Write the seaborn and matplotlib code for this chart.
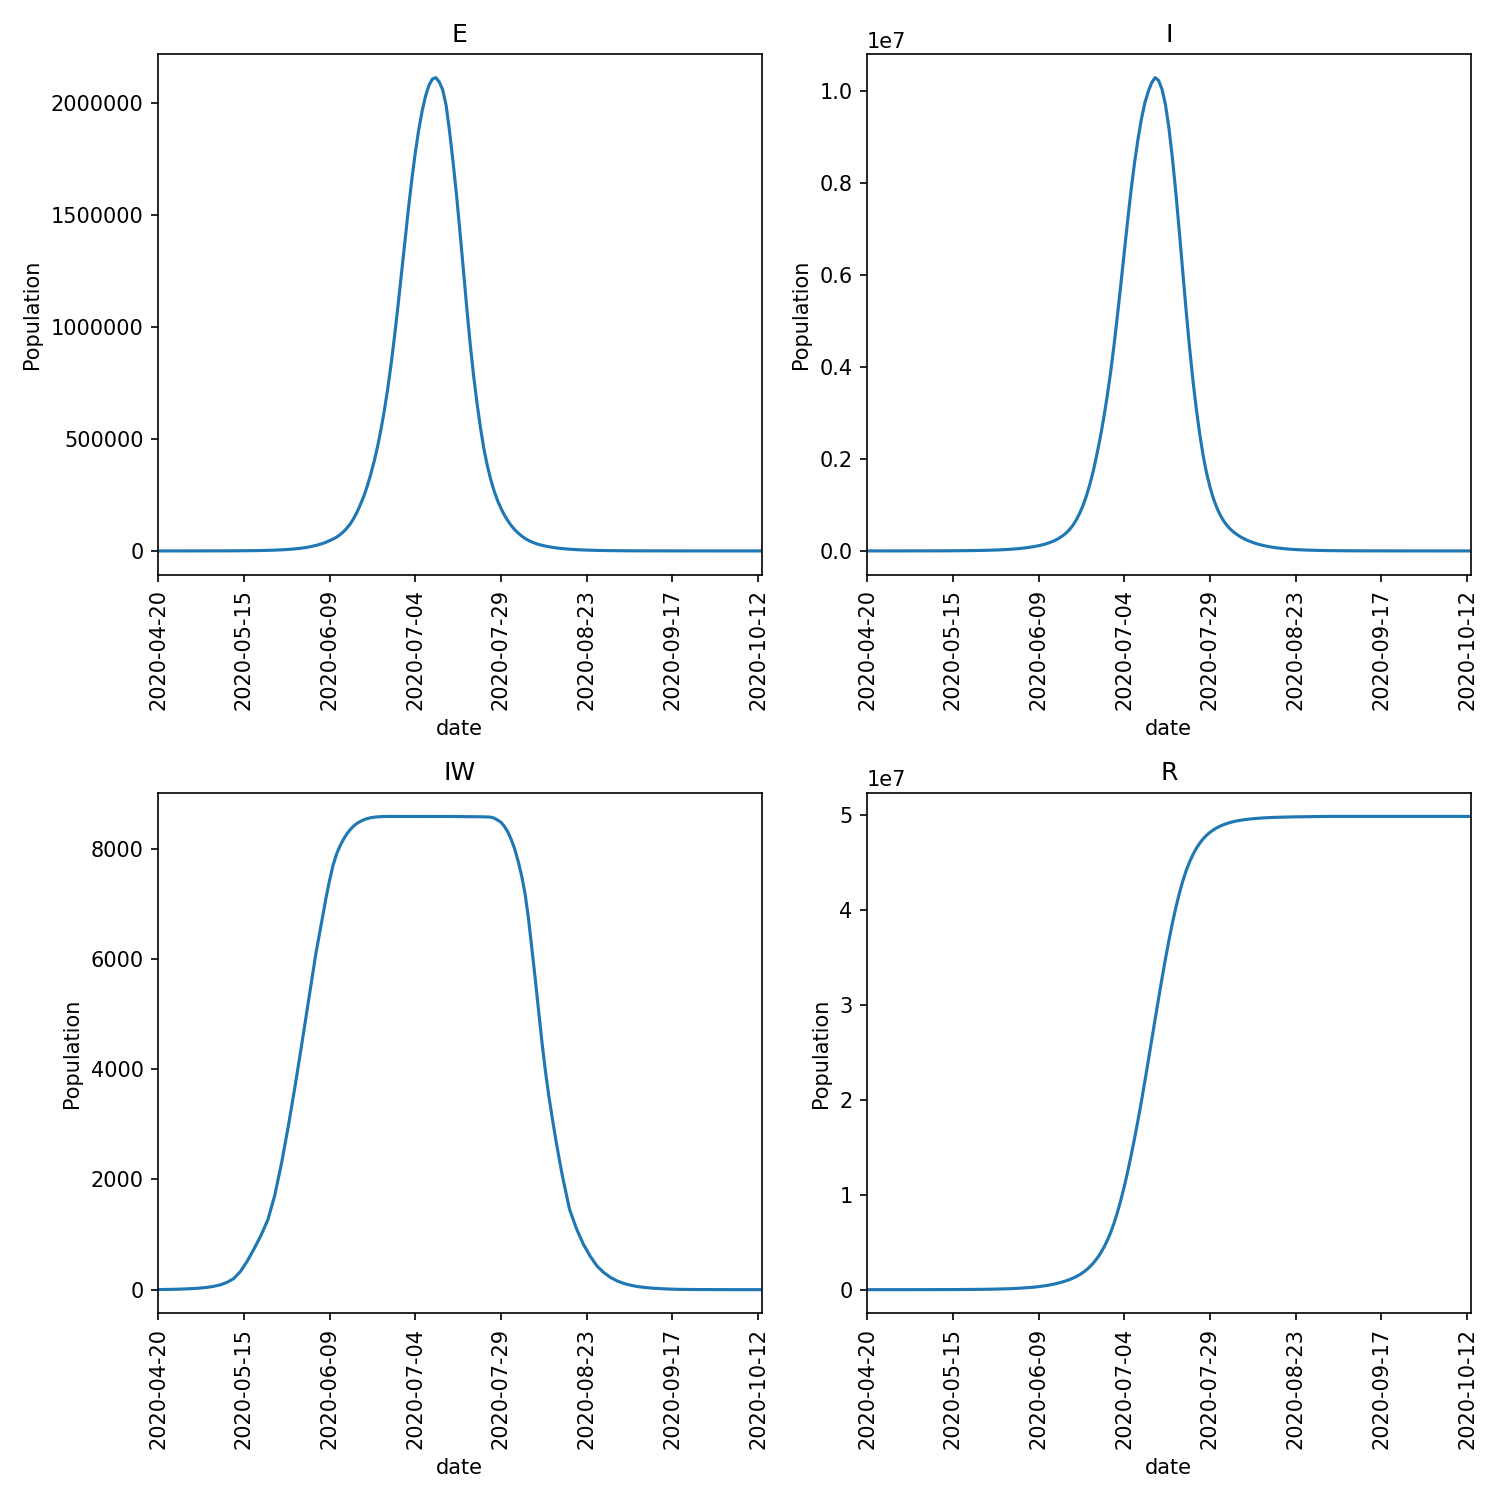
import pandas as pd
import matplotlib.pyplot as plt
import seaborn as sns

# sampled every 2nd day on the tails, daily around the peak (2020-06-08 .. 2020-08-18)
dates = (pd.date_range('2020-04-20', '2020-06-07', freq='2D')
         .append(pd.date_range('2020-06-08', '2020-08-18', freq='D'))
         .append(pd.date_range('2020-08-20', '2020-10-13', freq='2D')))
tick_labels = ['2020-04-20', '2020-05-15', '2020-06-09', '2020-07-04',
               '2020-07-29', '2020-08-23', '2020-09-17', '2020-10-12']
compartments = ['E', 'I', 'IW', 'R']

E = [15, 21, 29, 40, 56, 77, 106, 145, 200, 276,
     380, 523, 720, 990, 1365, 1880, 2590, 3560, 4900, 6750,
     9300, 12800, 17600, 24300, 33400,
     # daily
     39000, 46000, 53000, 61000, 72000, 85000, 101000, 120000, 144000, 173000,
     207000, 245000, 290000, 342000, 400000, 466000, 543000, 630000, 728000, 840000,
     965000, 1100000, 1242000, 1385000, 1528000, 1660000, 1778000, 1880000, 1965000, 2032000,
     2080000, 2108000, 2114000, 2095000, 2060000, 1990000, 1875000, 1740000, 1595000, 1432000,
     1262000, 1090000, 928000, 785000, 662000, 552000, 458000, 382000, 320000, 268000,
     225000, 190000, 160000, 135000, 113000, 95000, 80000, 67000, 56000, 47000,
     40000, 34000, 29000, 25000, 21500, 18500, 16000, 13800, 11900, 10300,
     8900, 7700,
     # every 2nd day
     5800, 4300, 3200, 2400, 1800, 1350, 1000, 750, 560, 420,
     310, 230, 170, 130, 100, 75, 56, 42, 31, 23,
     17, 13, 10, 8, 6, 4, 3, 2]

I = [100, 140, 180, 240, 320, 430, 570, 750, 1000, 1300,
     1700, 2200, 2900, 3900, 5100, 6800, 9000, 12000, 16000, 21000,
     28000, 37000, 49000, 65000, 86000,
     99000, 114000, 131000, 151000, 175000, 203000, 237000, 278000, 328000, 388000,
     463000, 556000, 675000, 820000, 995000, 1210000, 1460000, 1750000, 2100000, 2470000,
     2890000, 3360000, 3880000, 4470000, 5120000, 5800000, 6500000, 7200000, 7860000, 8450000,
     8960000, 9400000, 9750000, 10000000, 10190000, 10300000, 10240000, 10050000, 9720000, 9220000,
     8580000, 7830000, 7000000, 6130000, 5270000, 4460000, 3730000, 3100000, 2550000, 2080000,
     1700000, 1390000, 1140000, 940000, 780000, 650000, 550000, 470000, 405000, 350000,
     303000, 263000, 228000, 198000, 171000, 148000, 128000, 111000, 96000, 83000,
     72000, 62000,
     46000, 34000, 26000, 19000, 14000, 10700, 8000, 6000, 4500, 3400,
     2500, 1900, 1400, 1050, 800, 600, 450, 330, 250, 190,
     140, 100, 78, 58, 44, 33, 25, 19]

IW = [2, 4, 6, 9, 14, 20, 28, 40, 58, 86,
      130, 200, 330, 520, 745, 985, 1270, 1710, 2300, 2980,
      3720, 4500, 5300, 6100, 6780,
      7125, 7430, 7700, 7900, 8050, 8170, 8270, 8350, 8415, 8465,
      8500, 8530, 8552, 8567, 8577, 8583, 8587, 8589, 8590, 8591,
      8590, 8591, 8590, 8589, 8590, 8591, 8590, 8590, 8589, 8590,
      8591, 8590, 8589, 8590, 8590, 8589, 8590, 8589, 8588, 8588,
      8587, 8587, 8586, 8586, 8585, 8584, 8583, 8581, 8578, 8560,
      8525, 8485, 8410, 8310, 8170, 8000, 7780, 7520, 7200, 6750,
      6200, 5640, 5050, 4470, 3950, 3500, 3100, 2720, 2370, 2040,
      1750, 1460,
      1110, 830, 610, 430, 310, 220, 155, 110, 78, 55,
      40, 28, 20, 14, 9, 6, 4, 3, 2, 2,
      1, 1, 1, 0, 0, 0, 0, 0]

R = [400, 500, 650, 850, 1100, 1500, 2000, 2600, 3400, 4400,
     5800, 7600, 10000, 13000, 17000, 22000, 29000, 38000, 50000, 65000,
     85000, 110000, 145000, 190000, 245000,
     280000, 320000, 370000, 420000, 480000, 550000, 630000, 720000, 820000, 930000,
     1060000, 1210000, 1380000, 1580000, 1820000, 2100000, 2430000, 2820000, 3270000, 3800000,
     4420000, 5150000, 6000000, 7000000, 8150000, 9450000, 10880000, 12450000, 14150000, 15950000,
     17850000, 19850000, 21950000, 24120000, 26320000, 28520000, 30680000, 32800000, 34850000, 36780000,
     38580000, 40220000, 41700000, 43000000, 44120000, 45050000, 45850000, 46520000, 47070000, 47530000,
     47910000, 48220000, 48480000, 48700000, 48880000, 49030000, 49160000, 49270000, 49360000, 49440000,
     49500000, 49550000, 49600000, 49640000, 49670000, 49700000, 49730000, 49750000, 49770000, 49790000,
     49800000, 49810000,
     49830000, 49850000, 49860000, 49870000, 49880000, 49890000, 49900000, 49900000, 49900000, 49900000,
     49900000, 49900000, 49900000, 49900000, 49900000, 49900000, 49900000, 49900000, 49900000, 49900000,
     49900000, 49900000, 49900000, 49900000, 49900000, 49900000, 49900000, 49900000]

df = pd.DataFrame({'date': dates, 'E': E, 'I': I, 'IW': IW, 'R': R})

fig, axes = plt.subplots(2, 2, figsize=(10, 10), dpi=150)
for ax, c in zip(axes.flat, compartments):
    sns.lineplot(data=df, x='date', y=c, ax=ax)
    ax.set_title(c)
    ax.set_ylabel('Population')
    ax.set_xlabel('date')
    ax.set_xlim(dates[0], dates[-1])
    ax.set_xticks(pd.to_datetime(tick_labels))
    ax.set_xticklabels(tick_labels, rotation=90)

# E panel shows plain numbers, not an offset
axes[0, 0].ticklabel_format(axis='y', style='plain')

plt.tight_layout()
plt.savefig('out.png')
